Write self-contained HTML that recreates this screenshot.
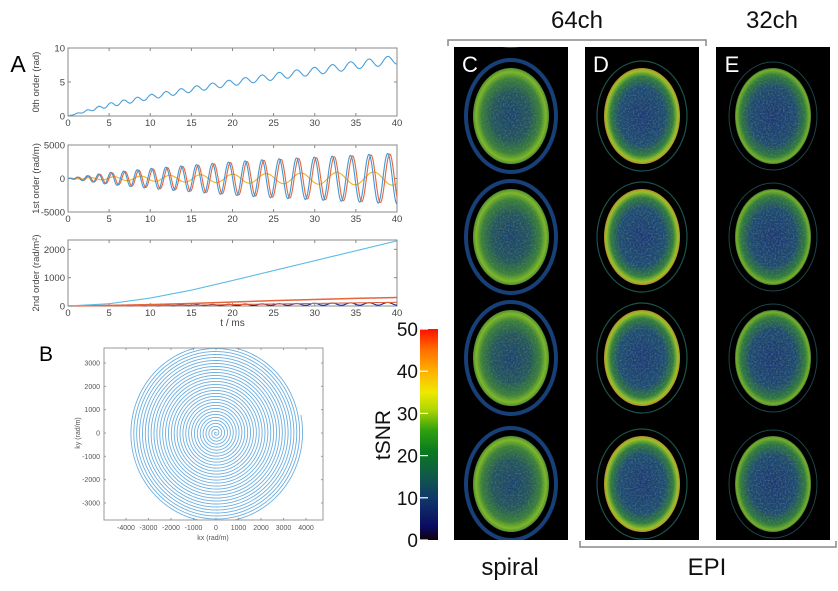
<!DOCTYPE html>
<html><head><meta charset="utf-8">
<style>
html,body{margin:0;padding:0;background:#fff;}
body{width:838px;height:591px;overflow:hidden;font-family:"Liberation Sans",Arial,sans-serif;}
svg{display:block;}
</style></head>
<body>
<svg id="fig" width="838" height="591" viewBox="0 0 838 591" xmlns="http://www.w3.org/2000/svg">
<defs>
  <linearGradient id="cbar" x1="0" y1="1" x2="0" y2="0">
    <stop offset="0" stop-color="#100008"/>
    <stop offset="0.06" stop-color="#0a0a60"/>
    <stop offset="0.2" stop-color="#10386a"/>
    <stop offset="0.3" stop-color="#10584a"/>
    <stop offset="0.42" stop-color="#0a7a20"/>
    <stop offset="0.52" stop-color="#30a010"/>
    <stop offset="0.62" stop-color="#b0d800"/>
    <stop offset="0.7" stop-color="#f0e800"/>
    <stop offset="0.8" stop-color="#ffb000"/>
    <stop offset="0.9" stop-color="#ff7000"/>
    <stop offset="1" stop-color="#ff1000"/>
  </linearGradient>
  <radialGradient id="brainC" cx="0.5" cy="0.5" r="0.5">
    <stop offset="0" stop-color="#1c4070"/>
    <stop offset="0.5" stop-color="#22545e"/>
    <stop offset="0.78" stop-color="#3a8038"/>
    <stop offset="0.92" stop-color="#80b820"/>
    <stop offset="1" stop-color="#4e8c30"/>
  </radialGradient>
  <radialGradient id="brainD" cx="0.5" cy="0.5" r="0.5">
    <stop offset="0" stop-color="#1a3878"/>
    <stop offset="0.6" stop-color="#1d4a74"/>
    <stop offset="0.82" stop-color="#2f7a3e"/>
    <stop offset="0.94" stop-color="#98c420"/>
    <stop offset="1" stop-color="#c08a20"/>
  </radialGradient>
  <radialGradient id="brainE" cx="0.5" cy="0.5" r="0.5">
    <stop offset="0" stop-color="#1a3676"/>
    <stop offset="0.6" stop-color="#1e4872"/>
    <stop offset="0.85" stop-color="#2e7a3c"/>
    <stop offset="0.96" stop-color="#78b020"/>
    <stop offset="1" stop-color="#3e7a34"/>
  </radialGradient>
  <filter id="noise" x="0" y="0" width="1" height="1">
    <feTurbulence type="fractalNoise" baseFrequency="0.6" numOctaves="2" seed="3" result="n"/>
    <feColorMatrix in="n" type="matrix" values="0 0 0 0 0.2  0 0 0 0 0.4  0 0 0 0 0.2  0 0 0 0.6 -0.25" result="nc"/>
    <feComposite in="nc" in2="SourceGraphic" operator="in" result="m"/>
    <feMerge><feMergeNode in="SourceGraphic"/><feMergeNode in="m"/></feMerge>
  </filter>
</defs>
<g id="panelA"></g>
<g id="panelB"></g>
<g id="cbarG"></g>
<g id="brains"></g>
</svg>
<script>
// ---- data ----
var tTicks = [0,5,10,15,20,25,30,35,40];
var env_t = [0,5,10,15,20,25,30,35,40];
var order0Trend = [0,1.6,2.8,3.9,4.9,5.8,6.6,7.5,8.3];
var order0Amp = [0,0.3,0.35,0.4,0.45,0.5,0.55,0.6,0.65];
var order1BlueAmp = [0,900,1500,2000,2500,2900,3200,3500,3800];
var order1RedAmp = [0,800,1400,1900,2400,2800,3100,3400,3700];
var order1YellowAmp = [0,250,400,550,650,750,850,950,1000];
var order2Blue = [0,80,280,560,900,1250,1600,1950,2300];
var order2Red = [0,20,50,90,140,190,230,270,300];
var order2Red2 = [0,5,15,30,50,70,90,110,130];
var order2Navy = [0,10,20,30,40,50,60,70,80];
var y0Ticks = [0,5,10];
var y1Ticks = [-5000,0,5000];
var y2Ticks = [0,1000,2000];
var spiralKmax = [3850];
var spiralTurns = [30];
var kTicksX = [-4000,-3000,-2000,-1000,0,1000,2000,3000,4000];
var kTicksY = [-3000,-2000,-1000,0,1000,2000,3000];
var cbTicks = [0,10,20,30,40,50];

var NS="http://www.w3.org/2000/svg";
function mk(tag, attrs, parent){var e=document.createElementNS(NS,tag);for(var k in attrs)e.setAttribute(k,attrs[k]);parent.appendChild(e);return e;}
function txt(parent,x,y,s,size,anchor,fill,rot){var e=mk('text',{x:x,y:y,'font-size':size,'text-anchor':anchor||'middle',fill:fill||'#444'},parent);if(rot)e.setAttribute('transform','rotate(-90 '+x+' '+y+')');e.textContent=s;return e;}
function lerpArr(xs,ys,x){for(var i=0;i<xs.length-1;i++){if(x<=xs[i+1]){var f=(x-xs[i])/(xs[i+1]-xs[i]);return ys[i]+f*(ys[i+1]-ys[i]);}}return ys[ys.length-1];}
function cycles(t){return 1.137*Math.pow(t,0.8);}

var A=document.getElementById('panelA');
var la=txt(A,18,72,'A',23,'middle','#000');



function axesBox(top,bot,ymin,ymax,yticks,ylab,name,xlabel){
  var g=mk('g',{},A);
  
  
  var L=68,R=397;
  var sx=function(t){return L+(t/40)*(R-L);};
  var sy=function(v){return bot-(v-ymin)/(ymax-ymin)*(bot-top);};
  mk('rect',{x:L,y:top,width:R-L,height:bot-top,fill:'none',stroke:'#888','stroke-width':1},g);
  tTicks.forEach(function(t){
    var x=sx(t);
    mk('line',{x1:x,y1:bot,x2:x,y2:bot-3,stroke:'#888'},g);
    mk('line',{x1:x,y1:top,x2:x,y2:top+3,stroke:'#888'},g);
    var tl=txt(g,x,bot+10,String(t),9.5,'middle','#444');
    
    
  });
  yticks.forEach(function(v){
    var y=sy(v);
    mk('line',{x1:L,y1:y,x2:L+3,y2:y,stroke:'#888'},g);
    mk('line',{x1:R,y1:y,x2:R-3,y2:y,stroke:'#888'},g);
    var yl=txt(g,L-3,y+3.5,String(v),9.5,'end','#444');
    
    
  });
  var yt=txt(g,L-29,(top+bot)/2,ylab,9.5,'middle','#444',true);
  
  
  if(xlabel){var xt=txt(g,(L+R)/2,bot+20,xlabel,10,'middle','#444');
    
    }
  return {g:g,sx:sx,sy:sy};
}
function plotLine(ax,fn,color,name,w){
  var d='';for(var i=0;i<=800;i++){var t=i*40/800;d+=(i?'L':'M')+ax.sx(t).toFixed(2)+','+ax.sy(fn(t)).toFixed(2);}
  var p=mk('path',{d:d,fill:'none',stroke:color,'stroke-width':w||1.1},ax.g);
  
  
}
var ax0=axesBox(48,116,0,10,y0Ticks,'0th order (rad)','plot-0th-order');
plotLine(ax0,function(t){return lerpArr(env_t,order0Trend,t)+lerpArr(env_t,order0Amp,t)*Math.sin(2*Math.PI*cycles(t));},'#4a9fd8','line-0th-order');
var ax1=axesBox(145,212,-5000,5000,y1Ticks,'1st order (rad/m)','plot-1st-order');
plotLine(ax1,function(t){return lerpArr(env_t,order1YellowAmp,t)*Math.sin(Math.PI*cycles(t));},'#f0b020','line-1st-order-z');
plotLine(ax1,function(t){return lerpArr(env_t,order1RedAmp,t)*Math.sin(2*Math.PI*cycles(t)-0.7);},'#e8643a','line-1st-order-y');
plotLine(ax1,function(t){return lerpArr(env_t,order1BlueAmp,t)*Math.sin(2*Math.PI*cycles(t));},'#3d97d6','line-1st-order-x');
var ax2=axesBox(240,306,0,2330,y2Ticks,'2nd order (rad/m²)','plot-2nd-order','t / ms');
plotLine(ax2,function(t){return lerpArr(env_t,order2Navy,t)*(1+0.6*Math.sin(2*Math.PI*cycles(t)));},'#1a2a90','line-2nd-order-navy');
plotLine(ax2,function(t){return lerpArr(env_t,order2Red2,t);},'#e06040','line-2nd-order-red2');
plotLine(ax2,function(t){return lerpArr(env_t,order2Red,t);},'#e8643a','line-2nd-order-red',1.5);
plotLine(ax2,function(t){return lerpArr(env_t,order2Blue,t);},'#5bbbe8','line-2nd-order-blue');

// ---- Panel B ----
var B=document.getElementById('panelB');
var lb=txt(B,46,361,'B',21,'middle','#000');


(function(){
  var L=104,R=323,T=348,Bo=520;
  var sx=function(k){return 216+k*0.0225;};
  var sy=function(k){return 433-k*0.02333;};
  var cg=mk('clipPath',{id:'bclip'},B);mk('rect',{x:L,y:T,width:R-L,height:Bo-T},cg);
  var g=mk('g',{'clip-path':'url(#bclip)'},B);
  var km=spiralKmax[0],n=spiralTurns[0],d='';
  var N=6000;
  for(var i=0;i<=N;i++){var f=i/N;var th=2*Math.PI*n*f;var r=km*f;
    var kx=r*Math.cos(th+0.2),ky=r*Math.sin(th+0.2);
    d+=(i?'L':'M')+sx(kx).toFixed(2)+','+sy(ky).toFixed(2);}
  var p=mk('path',{d:d,fill:'none',stroke:'#6aaee0','stroke-width':0.9},g);
  
  
  var bx=mk('rect',{x:L,y:T,width:R-L,height:Bo-T,fill:'none',stroke:'#999'},B);
  
  
  kTicksX.forEach(function(k){var x=sx(k);mk('line',{x1:x,y1:Bo,x2:x,y2:Bo-2,stroke:'#999'},B);mk('line',{x1:x,y1:T,x2:x,y2:T+2,stroke:'#999'},B);
    var t=txt(B,x,Bo+10,String(k),7,'middle','#555');
    
    });
  kTicksY.forEach(function(k){var y=sy(k);mk('line',{x1:L,y1:y,x2:L+2,y2:y,stroke:'#999'},B);mk('line',{x1:R,y1:y,x2:R-2,y2:y,stroke:'#999'},B);
    var t=txt(B,L-4,y+2.5,String(k),7,'end','#555');
    
    });
  var xt=txt(B,213,540,'kx (rad/m)',7,'middle','#555');
  
  
  var yt=txt(B,80,433,'ky (rad/m)',7,'middle','#555',true);
  
  
})();

// ---- Colorbar ----
var C=document.getElementById('cbarG');
(function(){
  var T=329,Bo=540;
  var r=mk('rect',{x:420,y:T,width:18,height:Bo-T,fill:'url(#cbar)'},C);
  
  
  cbTicks.forEach(function(v){var y=Bo-(v/50)*(Bo-T);
    mk('line',{x1:420,y1:y,x2:428,y2:y,stroke:'#fff','stroke-width':1.2},C);
    var t=txt(C,418,y+7,String(v),19,'end','#111');
    
    });
  var tt=txt(C,390,435,'tSNR',21,'middle','#111',true);
  
  
})();

// ---- Brain images ----
var Br=document.getElementById('brains');
var cols=[{x:454,l:'C',g:'brainC',ring:'#173f78',rw:4,rrx:45,rry:56},{x:585,l:'D',g:'brainD',ring:'#1c5248',rw:1.2,rrx:45,rry:55},{x:716,l:'E',g:'brainE',ring:'#1c4448',rw:1,rrx:44,rry:54}];
var rowsY=[116,237,358,484];
cols.forEach(function(c){
  var g=mk('g',{},Br);
  
  
  mk('rect',{x:c.x,y:47,width:114,height:493,fill:'#000'},g);
  var cl=mk('clipPath',{id:'cl'+c.l},g);mk('rect',{x:c.x,y:47,width:114,height:493},cl);
  var ig=mk('g',{'clip-path':'url(#cl'+c.l+')'},g);
  var cx=c.x+57;
  rowsY.concat([-5]).forEach(function(cy){
    var yy=cy<0?47-57:cy;
    mk('ellipse',{cx:cx,cy:yy,rx:c.rrx,ry:c.rry,fill:'none',stroke:c.ring,'stroke-width':c.rw},ig);
    var e=mk('ellipse',{cx:cx,cy:yy,rx:38,ry:48,fill:'url(#'+c.g+')',filter:'url(#noise)'},ig);
    
    
  });
  var lt=txt(g,c.x+16,72,c.l,22,'middle','#fff');
  
  
});
// brackets & labels
mk('path',{d:'M448,46 V40 H706 V46',fill:'none',stroke:'#888','stroke-width':1.5},Br);
mk('path',{d:'M580,541 V547 H836 V541',fill:'none',stroke:'#888','stroke-width':1.5},Br);
var l1=txt(Br,577,28,'64ch',24,'middle','#111');


var l2=txt(Br,772,28,'32ch',24,'middle','#111');


var l3=txt(Br,510,575,'spiral',24,'middle','#111');


var l4=txt(Br,707,575,'EPI',24,'middle','#111');


</script>
</body></html>
